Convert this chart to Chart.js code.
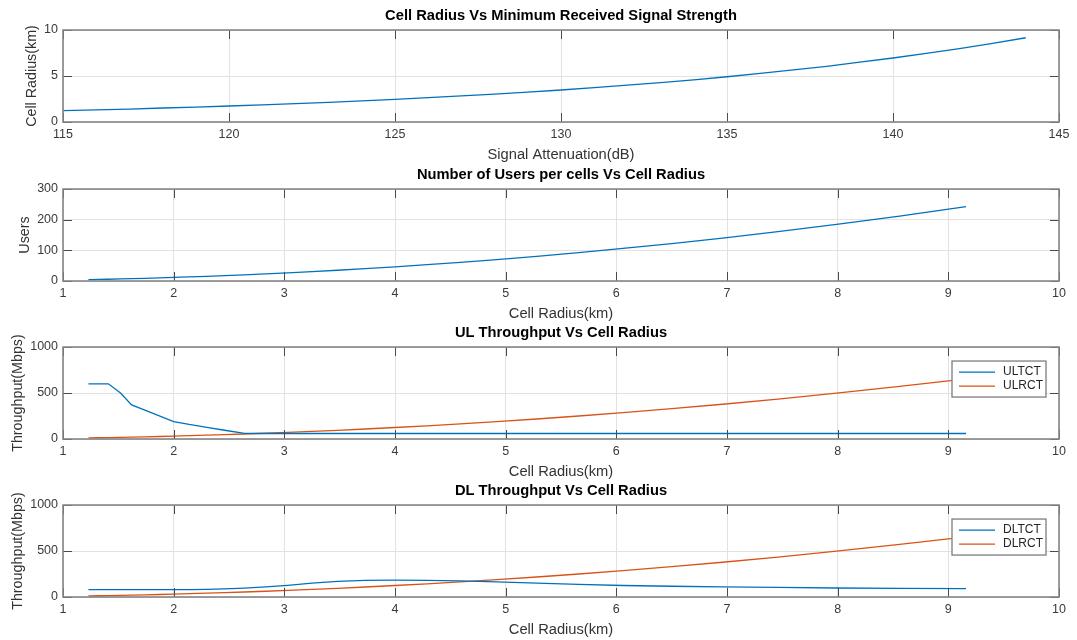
<!DOCTYPE html>
<html>
<head>
<meta charset="utf-8">
<script src="https://cdn.jsdelivr.net/npm/chart.js@4.4.1/dist/chart.umd.min.js"></script>
<style>
html,body{margin:0;padding:0;background:#fff;}
#wrap{position:relative;width:1077px;height:640px;overflow:hidden;background:#fff;}
#wrap canvas{position:absolute;left:0;}
</style>
</head>
<body>
<div id="wrap">
<canvas id="c1"></canvas>
<canvas id="c2"></canvas>
<canvas id="c3"></canvas>
<canvas id="c4"></canvas>
</div>
<script>
// ---------------- data ----------------
const attenuationDb = [115,116,117,118,119,120,121,122,123,124,125,126,127,128,129,130,131,132,133,134,135,136,137,138,139,140,141,142,143,144];
const cellRadiusKm  = [1.23,1.32,1.41,1.52,1.62,1.74,1.87,2.00,2.14,2.30,2.46,2.64,2.83,3.03,3.25,3.48,3.73,4.00,4.29,4.59,4.92,5.28,5.66,6.06,6.50,6.96,7.46,7.99,8.56,9.16];

const radiusKm      = [1.23,1.32,1.41,1.52,1.62,1.74,1.87,2.00,2.14,2.30,2.46,2.64,2.83,3.03,3.25,3.48,3.73,4.00,4.29,4.59,4.92,5.28,5.66,6.06,6.50,6.96,7.46,7.99,8.56,9.16];
const usersPerCell  = [4.4,5.0,5.7,6.7,7.6,8.8,10.1,11.6,13.2,15.3,17.5,20.1,23.1,26.5,30.5,35.0,40.2,46.2,53.2,60.9,70.0,80.6,92.6,106.1,122.1,140.0,160.8,184.5,211.8,242.5];

const ulTct = [600,600,600,500,371,313,251,189,158,127,95,62,60,60,60,60,60,60,60,60,60,60,60,60,60,60,60,60,60,60];
const ulRct = [11.8,13.6,15.5,18.0,20.5,23.6,27.3,31.2,35.7,41.3,47.2,54.4,62.5,71.6,82.4,94.5,108.5,124.8,143.5,164.3,188.8,217.5,249.9,286.4,329.6,377.8,434.1,498.0,571.5,654.5];
const dlTct = [80,80,80,80,80,80,80,80,81,83,88,97,110,127,150,170,180,183,181,175,165,150,137,125,117,110,104,98,94,90];
const dlRct = [11.8,13.6,15.5,18.0,20.5,23.6,27.3,31.2,35.7,41.3,47.2,54.4,62.5,71.6,82.4,94.5,108.5,124.8,143.5,164.3,188.8,217.5,249.9,286.4,329.6,377.8,434.1,498.0,571.5,654.5];

const attenTicks   = [115,120,125,130,135,140,145];
const radiusTicks  = [1,2,3,4,5,6,7,8,9,10];
const radiusKmTicks = [0,5,10];
const usersTicks   = [0,100,200,300];
const tputTicks    = [0,500,1000];

const titles  = ['Cell Radius Vs Minimum Received Signal Strength','Number of Users per cells Vs Cell Radius','UL Throughput Vs Cell Radius','DL Throughput Vs Cell Radius'];
const xTitles = ['Signal Attenuation(dB)','Cell Radius(km)','Cell Radius(km)','Cell Radius(km)'];
const yTitles = ['Cell Radius(km)','Users','Throughput(Mbps)','Throughput(Mbps)'];
const ulLabels = ['ULTCT','ULRCT'];
const dlLabels = ['DLTCT','DLRCT'];

// ---------------- styling ----------------
const FONT = "'Liberation Sans', Arial, Helvetica, sans-serif";
const BLUE = '#0072BD';
const ORANGE = '#D95319';

const matlabAxes = {
  id: 'matlabAxes',
  afterDatasetsDraw(chart, args, opts) {
    const {ctx, chartArea: ca} = chart;
    const xs = chart.scales.x, ys = chart.scales.y;
    ctx.save();
    // inward tick marks
    ctx.strokeStyle = '#4a4a4a';
    ctx.lineWidth = 1;
    const L = 9;
    ctx.beginPath();
    xs.ticks.forEach(t => {
      const px = Math.round(xs.getPixelForValue(t.value)) + 0.5;
      ctx.moveTo(px, ca.top); ctx.lineTo(px, ca.top + L);
      ctx.moveTo(px, ca.bottom); ctx.lineTo(px, ca.bottom - L);
    });
    ys.ticks.forEach(t => {
      const py = Math.round(ys.getPixelForValue(t.value)) + 0.5;
      ctx.moveTo(ca.left, py); ctx.lineTo(ca.left + L, py);
      ctx.moveTo(ca.right, py); ctx.lineTo(ca.right - L, py);
    });
    ctx.stroke();
    // box
    ctx.strokeStyle = '#858585';
    ctx.lineWidth = 1.6;
    ctx.strokeRect(ca.left, ca.top, ca.right - ca.left, ca.bottom - ca.top);
    // legend box (MATLAB style, inside top-right)
    if (opts && opts.items) {
      const w = 94, h = 36;
      const x0 = ca.right - 13 - w, y0 = ca.top + 14;
      ctx.fillStyle = '#ffffff';
      ctx.fillRect(x0, y0, w, h);
      ctx.strokeStyle = '#7d7d7d';
      ctx.lineWidth = 1.3;
      ctx.strokeRect(x0, y0, w, h);
      ctx.font = '12px ' + FONT;
      ctx.textBaseline = 'middle';
      ctx.textAlign = 'left';
      opts.items.forEach((it, i) => {
        const cy = y0 + 11 + i * 14;
        ctx.strokeStyle = it.color;
        ctx.lineWidth = 1.3;
        ctx.beginPath();
        ctx.moveTo(x0 + 7, cy); ctx.lineTo(x0 + 43, cy);
        ctx.stroke();
        ctx.fillStyle = '#262626';
        ctx.fillText(it.text, x0 + 51, cy);
      });
    }
    ctx.restore();
  }
};

function makePanel(id, spec) {
  const cv = document.getElementById(id);
  cv.width = 1077; cv.height = spec.h;
  cv.style.width = '1077px'; cv.style.height = spec.h + 'px';
  cv.style.top = spec.top + 'px';
  return new Chart(cv, {
    type: 'line',
    data: {
      datasets: spec.series.map(s => ({
        label: s.label,
        data: spec.x.map((xv, i) => ({x: xv, y: s.y[i]})),
        borderColor: s.color,
        backgroundColor: s.color,
        borderWidth: 1.3,
        pointRadius: 0,
        tension: 0,
        fill: false
      }))
    },
    options: {
      responsive: false,
      animation: false,
      devicePixelRatio: 1,
      layout: {padding: {left: 0, right: 18, top: 0, bottom: 0}},
      plugins: {
        legend: {display: false},
        tooltip: {enabled: false},
        title: {
          display: true, text: spec.title, color: '#000', fullSize: false,
          font: {family: FONT, size: 14.7, weight: 'bold', lineHeight: 1.2},
          padding: {top: 7.2, bottom: 5.2}
        },
        matlabAxes: {items: spec.legend}
      },
      scales: {
        x: {
          type: 'linear', min: spec.xTicks[0], max: spec.xTicks[spec.xTicks.length - 1],
          afterBuildTicks: s => { s.ticks = spec.xTicks.map(v => ({value: v})); },
          afterFit: s => { s.height = spec.h - 122; },
          grid: {color: '#e2e2e2', lineWidth: 1, drawTicks: false},
          border: {display: false},
          ticks: {color: '#3a3a3a', font: {family: FONT, size: 12.5}, padding: 5, maxRotation: 0, autoSkip: false,
                  callback: v => String(v)},
          title: {display: true, text: spec.xTitle, color: '#333',
                  font: {family: FONT, size: 14.7, lineHeight: 1.2}, padding: {top: 0, bottom: 0.6}}
        },
        y: {
          type: 'linear', min: spec.yTicks[0], max: spec.yTicks[spec.yTicks.length - 1],
          afterBuildTicks: s => { s.ticks = spec.yTicks.map(v => ({value: v})); },
          afterFit: s => { s.width = 63; },
          grid: {color: '#e2e2e2', lineWidth: 1, drawTicks: false},
          border: {display: false},
          ticks: {color: '#3a3a3a', font: {family: FONT, size: 12.5}, padding: 5, autoSkip: false,
                  callback: v => String(v)},
          title: {display: true, text: spec.yTitle, color: '#333',
                  font: {family: FONT, size: 14.3, lineHeight: 1.2}, padding: {top: spec.yTitlePad, bottom: 0}}
        }
      }
    },
    plugins: [matlabAxes]
  });
}

makePanel('c1', {
  top: 0, h: 164, title: titles[0], xTitle: xTitles[0], yTitle: yTitles[0], yTitlePad: 23.4,
  x: attenuationDb, xTicks: attenTicks, yTicks: radiusKmTicks,
  series: [{label: 'Cell Radius', y: cellRadiusKm, color: BLUE}]
});
makePanel('c2', {
  top: 159, h: 164, title: titles[1], xTitle: xTitles[1], yTitle: yTitles[1], yTitlePad: 16.4,
  x: radiusKm, xTicks: radiusTicks, yTicks: usersTicks,
  series: [{label: 'Users', y: usersPerCell, color: BLUE}]
});
makePanel('c3', {
  top: 317, h: 164, title: titles[2], xTitle: xTitles[2], yTitle: yTitles[2], yTitlePad: 9.4,
  x: radiusKm, xTicks: radiusTicks, yTicks: tputTicks,
  series: [{label: ulLabels[0], y: ulTct, color: BLUE}, {label: ulLabels[1], y: ulRct, color: ORANGE}],
  legend: [{text: ulLabels[0], color: BLUE}, {text: ulLabels[1], color: ORANGE}]
});
makePanel('c4', {
  top: 475, h: 164, title: titles[3], xTitle: xTitles[3], yTitle: yTitles[3], yTitlePad: 9.4,
  x: radiusKm, xTicks: radiusTicks, yTicks: tputTicks,
  series: [{label: dlLabels[0], y: dlTct, color: BLUE}, {label: dlLabels[1], y: dlRct, color: ORANGE}],
  legend: [{text: dlLabels[0], color: BLUE}, {text: dlLabels[1], color: ORANGE}]
});
</script>
</body>
</html>
